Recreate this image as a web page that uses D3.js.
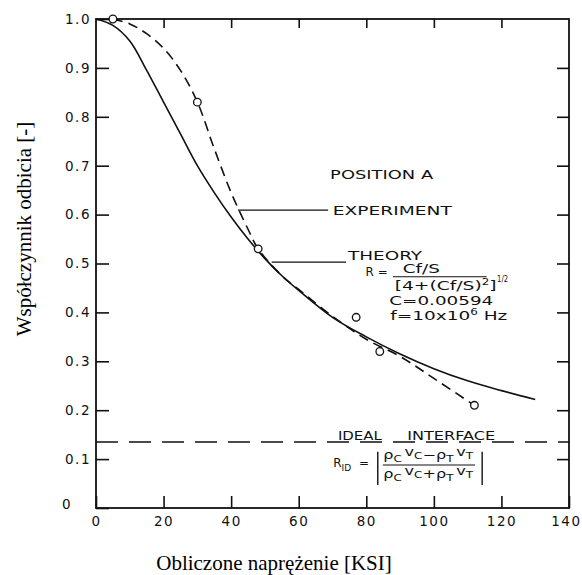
<!DOCTYPE html>
<html>
<head>
<meta charset="utf-8">
<script src="https://cdn.jsdelivr.net/npm/d3@7"></script>
<style>
  html, body { margin: 0; padding: 0; background: #fff; }
  svg { display: block; }
  .tick text { font-family: "DejaVu Sans", sans-serif; font-size: 13.5px; fill: #111; letter-spacing: 1.5px; }
  .note { font-family: "DejaVu Sans", sans-serif; fill: #111; }
  .title { font-family: "Liberation Serif", "Times New Roman", serif; fill: #000; }
</style>
</head>
<body>
<script>
// Theory curve (solid)
const theoryStress = [0, 5, 10, 15, 20, 25, 30, 35, 40, 45, 50, 55, 60, 70, 80, 90, 100, 110, 120, 130];
const theoryR = [1.0, 0.987, 0.955, 0.895, 0.83, 0.765, 0.70, 0.645, 0.595, 0.55, 0.51, 0.475, 0.445, 0.39, 0.35, 0.315, 0.285, 0.26, 0.24, 0.222];

// Experiment curve (dashed, hand-faired)
const expStress = [5, 10, 15, 20, 25, 30, 35, 40, 45, 48, 55, 60, 70, 80, 90, 100, 112];
const expR = [1.0, 0.99, 0.97, 0.94, 0.895, 0.83, 0.735, 0.645, 0.57, 0.53, 0.475, 0.447, 0.392, 0.345, 0.31, 0.265, 0.21];

// Measured points (circles)
const pointStress = [5, 30, 48, 77, 84, 112];
const pointR = [1.0, 0.83, 0.53, 0.39, 0.32, 0.21];

// Ideal interface level
const idealR = 0.135;

// Ticks
const xTicks = [0, 20, 40, 60, 80, 100, 120, 140];
const yTicks = [0, 0.1, 0.2, 0.3, 0.4, 0.5, 0.6, 0.7, 0.8, 0.9, 1.0];

const width = 582, height = 575;
const margin = { top: 19, right: 13, bottom: 67, left: 96 };

const svg = d3.select('body').append('svg')
  .attr('width', width)
  .attr('height', height);

svg.append('rect').attr('width', width).attr('height', height).attr('fill', '#fff');

const x = d3.scaleLinear().domain([0, 140]).range([margin.left, width - margin.right]);
const y = d3.scaleLinear().domain([0, 1]).range([height - margin.bottom, margin.top]);

// Frame
svg.append('rect')
  .attr('x', x(0)).attr('y', y(1))
  .attr('width', x(140) - x(0)).attr('height', y(0) - y(1))
  .attr('fill', 'none').attr('stroke', '#111').attr('stroke-width', 1.8);

// Axes with inward ticks
const yAxis = svg.append('g')
  .attr('transform', `translate(${x(0)},0)`)
  .call(d3.axisLeft(y).tickValues(yTicks).tickSize(-13).tickPadding(5)
    .tickFormat(d => d === 0 ? '0' : d.toFixed(1)));

yAxis.selectAll('.tick text').filter(d => d === 0)
  .attr('dx', -19).attr('dy', '0.05em');

const xAxis = svg.append('g')
  .attr('transform', `translate(0,${y(0)})`)
  .call(d3.axisBottom(x).tickValues(xTicks).tickSize(-12).tickPadding(8)
    .tickFormat(d => String(d)));

// last label sits against the page edge
xAxis.selectAll('.tick text').filter(d => d === 140)
  .attr('text-anchor', 'end').attr('dx', 12);

svg.append('g')
  .attr('transform', `translate(0,${y(1)})`)
  .call(d3.axisTop(x).tickValues([20, 40, 60, 80, 100, 120]).tickSize(-9).tickFormat(''));

svg.append('g')
  .attr('transform', `translate(${x(140)},0)`)
  .call(d3.axisRight(y).tickValues(yTicks.slice(1, 10)).tickSize(-12).tickFormat(''));

svg.selectAll('.domain').remove();
svg.selectAll('.tick line').attr('stroke', '#111').attr('stroke-width', 1.6);

// Ideal interface line
svg.append('line')
  .attr('x1', x(0)).attr('x2', x(140))
  .attr('y1', y(idealR)).attr('y2', y(idealR))
  .attr('stroke', '#111').attr('stroke-width', 1.5)
  .attr('stroke-dasharray', '22,11');

// Curves
const theoryLine = d3.line()
  .x((d, i) => x(theoryStress[i]))
  .y(d => y(d))
  .curve(d3.curveCatmullRom);

svg.append('path')
  .datum(theoryR)
  .attr('fill', 'none')
  .attr('stroke', '#111')
  .attr('stroke-width', 1.6)
  .attr('d', theoryLine);

const expLine = d3.line()
  .x((d, i) => x(expStress[i]))
  .y(d => y(d))
  .curve(d3.curveCatmullRom);

svg.append('path')
  .datum(expR)
  .attr('fill', 'none')
  .attr('stroke', '#111')
  .attr('stroke-width', 1.6)
  .attr('stroke-dasharray', '10,6')
  .attr('d', expLine);

svg.selectAll('.pt')
  .data(pointR)
  .enter()
  .append('circle')
  .attr('class', 'pt')
  .attr('cx', (d, i) => x(pointStress[i]))
  .attr('cy', d => y(d))
  .attr('r', 3.8)
  .attr('fill', '#fff')
  .attr('stroke', '#111')
  .attr('stroke-width', 1.3);

// Annotations
const note = (tx, ty, str, size, len) => {
  const t = svg.append('text')
    .attr('class', 'note')
    .attr('x', tx).attr('y', ty)
    .style('font-size', `${size}px`)
    .text(str);
  if (len) t.attr('textLength', len).attr('lengthAdjust', 'spacingAndGlyphs');
  return t;
};

note(x(69.3), y(0.672), 'POSITION A', 12.5, 103);

svg.append('line')
  .attr('x1', x(42)).attr('x2', x(68.7))
  .attr('y1', y(0.609)).attr('y2', y(0.609))
  .attr('stroke', '#111').attr('stroke-width', 1.3);
note(x(70.1), y(0.6), 'EXPERIMENT', 12.5, 119);

svg.append('line')
  .attr('x1', x(52)).attr('x2', x(74))
  .attr('y1', y(0.503)).attr('y2', y(0.503))
  .attr('stroke', '#111').attr('stroke-width', 1.3);
note(x(74.6), y(0.507), 'THEORY', 12.5, 74);

// R = Cf/S / [4+(Cf/S)^2]^1/2
note(x(79.8), y(0.474), 'R =', 12, 22);
note(x(90.8), y(0.481), 'Cf/S', 12, 37);
svg.append('line')
  .attr('x1', x(87.9)).attr('x2', x(115.6))
  .attr('y1', y(0.473)).attr('y2', y(0.473))
  .attr('stroke', '#111').attr('stroke-width', 1.1);
const den = note(x(88.4), y(0.445), '', 12.5);
den.append('tspan').text('[4+(Cf/S)');
den.append('tspan').attr('dy', -5).style('font-size', '8px').text('2');
den.append('tspan').attr('dy', 5).text(']');
den.attr('textLength', 102).attr('lengthAdjust', 'spacingAndGlyphs');
note(x(118.7), y(0.463), '1/2', 8, 11);

note(x(86.8), y(0.415), 'C=0.00594', 12.5, 104);
const fr = note(x(87.1), y(0.384), '', 12.5);
fr.append('tspan').text('f=10x10');
fr.append('tspan').attr('dy', -5).style('font-size', '8px').text('6');
fr.append('tspan').attr('dy', 5).text(' Hz');
fr.attr('textLength', 117).attr('lengthAdjust', 'spacingAndGlyphs');

// Ideal interface label
note(x(71.6), y(idealR) - 2, 'IDEAL', 12, 44);
note(x(92.1), y(idealR) - 2, 'INTERFACE', 12, 88);

// R_ID = |(ρC vC − ρT vT)/(ρC vC + ρT vT)|
const rid = note(x(70.2), y(0.084), '', 12);
rid.append('tspan').text('R');
rid.append('tspan').attr('dy', 4).style('font-size', '9px').text('ID');
rid.append('tspan').attr('dy', -4).attr('dx', 8).text('=');

const frac = (tx, ty, op) => {
  const t = note(tx, ty, '', 12);
  t.append('tspan').text('ρ');
  t.append('tspan').attr('dy', 3).style('font-size', '9px').text('C');
  t.append('tspan').attr('dy', -6).attr('dx', 2).text('v');
  t.append('tspan').attr('dy', 3).style('font-size', '9px').text('C');
  t.append('tspan').attr('dy', 0).text(op);
  t.append('tspan').attr('dy', 0).text('ρ');
  t.append('tspan').attr('dy', 3).style('font-size', '9px').text('T');
  t.append('tspan').attr('dy', -6).attr('dx', 2).text('v');
  t.append('tspan').attr('dy', 3).style('font-size', '9px').text('T');
  t.attr('textLength', 90).attr('lengthAdjust', 'spacingAndGlyphs');
};
frac(x(85.0), y(0.1), '−');
frac(x(85.0), y(0.061), '+');
svg.append('line')
  .attr('x1', x(84.9)).attr('x2', x(112.2))
  .attr('y1', y(0.088)).attr('y2', y(0.088))
  .attr('stroke', '#111').attr('stroke-width', 1.1);
[83.4, 114.3].forEach(v => {
  svg.append('line')
    .attr('x1', x(v)).attr('x2', x(v))
    .attr('y1', y(0.115)).attr('y2', y(0.047))
    .attr('stroke', '#111').attr('stroke-width', 1.4);
});

// Axis titles
svg.append('text')
  .attr('class', 'title')
  .attr('x', 274).attr('y', 570)
  .attr('text-anchor', 'middle')
  .style('font-size', '21px')
  .text('Obliczone naprężenie [KSI]');

svg.append('text')
  .attr('class', 'title')
  .attr('transform', 'translate(31,229) rotate(-90)')
  .attr('text-anchor', 'middle')
  .style('font-size', '21px')
  .text('Współczynnik odbicia [-]');
</script>
</body>
</html>
